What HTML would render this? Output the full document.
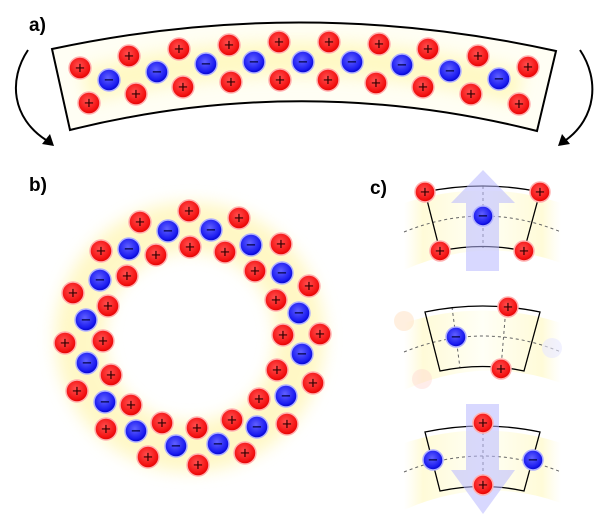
<!DOCTYPE html>
<html><head><meta charset="utf-8"><style>
html,body{margin:0;padding:0;background:#fff;width:613px;height:518px;overflow:hidden}
svg{display:block}
.p,.m{font-family:"Liberation Sans",sans-serif;font-size:17px;fill:#300000;text-anchor:middle;dominant-baseline:central}
.m{fill:#000040}
.lab{font-family:"Liberation Sans",sans-serif;font-weight:bold;font-size:19px;fill:#000}
</style></head><body>
<svg width="613" height="518" viewBox="0 0 613 518" xmlns="http://www.w3.org/2000/svg">
<defs>
<radialGradient id="rr" cx="0.45" cy="0.4" r="0.6"><stop offset="0" stop-color="#ff5050"/><stop offset="0.75" stop-color="#f41414"/><stop offset="1" stop-color="#e00000"/></radialGradient>
<radialGradient id="bb" cx="0.45" cy="0.4" r="0.6"><stop offset="0" stop-color="#6060ff"/><stop offset="0.75" stop-color="#1c1cf0"/><stop offset="1" stop-color="#0000c8"/></radialGradient>
<filter id="bl" filterUnits="userSpaceOnUse" x="0" y="0" width="613" height="518"><feGaussianBlur stdDeviation="8"/></filter>
<linearGradient id="cy" x1="0" x2="1"><stop offset="0" stop-color="#fffbe0" stop-opacity="0"/><stop offset="0.12" stop-color="#fffbd8"/><stop offset="0.5" stop-color="#fffff6"/><stop offset="0.88" stop-color="#fffbd8"/><stop offset="1" stop-color="#fffbe0" stop-opacity="0"/></linearGradient>
</defs>

<text class="lab" x="29" y="31">a)</text>
<text class="lab" x="29" y="191">b)</text>
<text class="lab" x="370" y="194">c)</text>

<!-- panel a -->
<path d="M52,49 Q304,-5 556,51 L537,131 Q304,72 70,130 Z" fill="#fffef4"/>
<path d="M85,86 Q304,30 520,88" fill="none" stroke="#fff7b0" stroke-width="34" filter="url(#bl)" opacity="0.7"/>
<path d="M52,49 Q304,-5 556,51 L537,131 Q304,72 70,130 Z" fill="none" stroke="#000" stroke-width="2"/>
<path d="M28,50 C8,80 12,118 46,140" fill="none" stroke="#000" stroke-width="2"/>
<path d="M42,144 L54,146 L50,134 Z" fill="#000"/>
<path d="M580,50 C600,80 596,118 566,140" fill="none" stroke="#000" stroke-width="2"/>
<path d="M570,144 L558,146 L562,134 Z" fill="#000"/>

<g stroke="#ffb0b0" stroke-width="1.5" fill="url(#rr)">
<circle cx="80" cy="68" r="11"/><circle cx="89" cy="103" r="11"/>
<circle cx="129" cy="56" r="11"/><circle cx="136" cy="94" r="11"/>
<circle cx="179" cy="49" r="11"/><circle cx="183" cy="87" r="11"/>
<circle cx="229" cy="45" r="11"/><circle cx="231" cy="82" r="11"/>
<circle cx="279" cy="42" r="11"/><circle cx="280" cy="80" r="11"/>
<circle cx="329" cy="42" r="11"/><circle cx="328" cy="80" r="11"/>
<circle cx="379" cy="44" r="11"/><circle cx="376" cy="83" r="11"/>
<circle cx="428" cy="49" r="11"/><circle cx="423" cy="87" r="11"/>
<circle cx="478" cy="56" r="11"/><circle cx="471" cy="94" r="11"/>
<circle cx="528" cy="67" r="11"/><circle cx="519" cy="104" r="11"/>
</g>
<g stroke="#b0b0ff" stroke-width="1.5" fill="url(#bb)">
<circle cx="109" cy="80" r="11"/><circle cx="157" cy="72" r="11"/>
<circle cx="206" cy="64" r="11"/><circle cx="254" cy="62" r="11"/>
<circle cx="303" cy="62" r="11"/><circle cx="352" cy="62" r="11"/>
<circle cx="402" cy="65" r="11"/><circle cx="450" cy="71" r="11"/>
<circle cx="499" cy="79" r="11"/>
</g>
<g class="p">
<text x="80" y="68">+</text><text x="89" y="103">+</text><text x="129" y="56">+</text><text x="136" y="94">+</text>
<text x="179" y="49">+</text><text x="183" y="87">+</text><text x="229" y="45">+</text><text x="231" y="82">+</text>
<text x="279" y="42">+</text><text x="280" y="80">+</text><text x="329" y="42">+</text><text x="328" y="80">+</text>
<text x="379" y="44">+</text><text x="376" y="83">+</text><text x="428" y="49">+</text><text x="423" y="87">+</text>
<text x="478" y="56">+</text><text x="471" y="94">+</text><text x="528" y="67">+</text><text x="519" y="104">+</text>
</g>
<g class="m">
<text x="109" y="80">−</text><text x="157" y="72">−</text><text x="206" y="64">−</text><text x="254" y="62">−</text>
<text x="303" y="62">−</text><text x="352" y="62">−</text><text x="402" y="65">−</text><text x="450" y="71">−</text><text x="499" y="79">−</text>
</g>

<!-- panel b -->
<circle cx="190" cy="337" r="110" fill="none" stroke="#fff3a0" stroke-width="50" filter="url(#bl)" opacity="0.6"/>
<g stroke="#ffb0b0" stroke-width="1.5" fill="url(#rr)">
<circle cx="189" cy="211" r="11"/><circle cx="140" cy="222" r="11"/><circle cx="239" cy="218" r="11"/><circle cx="101" cy="251" r="11"/>
<circle cx="156" cy="255" r="11"/><circle cx="190" cy="247" r="11"/><circle cx="225" cy="252" r="11"/><circle cx="281" cy="244" r="11"/>
<circle cx="127" cy="276" r="11"/><circle cx="255" cy="271" r="11"/><circle cx="73" cy="293" r="11"/><circle cx="309" cy="286" r="11"/>
<circle cx="108" cy="306" r="11"/><circle cx="276" cy="300" r="11"/><circle cx="65" cy="343" r="11"/><circle cx="103" cy="341" r="11"/>
<circle cx="283" cy="335" r="11"/><circle cx="320" cy="334" r="11"/><circle cx="111" cy="375" r="11"/><circle cx="277" cy="370" r="11"/>
<circle cx="77" cy="391" r="11"/><circle cx="313" cy="383" r="11"/><circle cx="131" cy="405" r="11"/><circle cx="259" cy="399" r="11"/>
<circle cx="106" cy="429" r="11"/><circle cx="162" cy="423" r="11"/><circle cx="197" cy="428" r="11"/><circle cx="232" cy="420" r="11"/>
<circle cx="287" cy="424" r="11"/><circle cx="148" cy="457" r="11"/><circle cx="198" cy="465" r="11"/><circle cx="245" cy="453" r="11"/>
</g>
<g stroke="#b0b0ff" stroke-width="1.5" fill="url(#bb)">
<circle cx="168" cy="231" r="11"/><circle cx="211" cy="230" r="11"/><circle cx="129" cy="249" r="11"/><circle cx="251" cy="245" r="11"/>
<circle cx="100" cy="280" r="11"/><circle cx="282" cy="273" r="11"/><circle cx="86" cy="320" r="11"/><circle cx="299" cy="313" r="11"/>
<circle cx="87" cy="363" r="11"/><circle cx="302" cy="354" r="11"/><circle cx="105" cy="402" r="11"/><circle cx="286" cy="396" r="11"/>
<circle cx="136" cy="431" r="11"/><circle cx="257" cy="427" r="11"/><circle cx="176" cy="446" r="11"/><circle cx="218" cy="444" r="11"/>
</g>
<g class="p">
<text x="189" y="211">+</text><text x="140" y="222">+</text><text x="239" y="218">+</text><text x="101" y="251">+</text>
<text x="156" y="255">+</text><text x="190" y="247">+</text><text x="225" y="252">+</text><text x="281" y="244">+</text>
<text x="127" y="276">+</text><text x="255" y="271">+</text><text x="73" y="293">+</text><text x="309" y="286">+</text>
<text x="108" y="306">+</text><text x="276" y="300">+</text><text x="65" y="343">+</text><text x="103" y="341">+</text>
<text x="283" y="335">+</text><text x="320" y="334">+</text><text x="111" y="375">+</text><text x="277" y="370">+</text>
<text x="77" y="391">+</text><text x="313" y="383">+</text><text x="131" y="405">+</text><text x="259" y="399">+</text>
<text x="106" y="429">+</text><text x="162" y="423">+</text><text x="197" y="428">+</text><text x="232" y="420">+</text>
<text x="287" y="424">+</text><text x="148" y="457">+</text><text x="198" y="465">+</text><text x="245" y="453">+</text>
</g>
<g class="m">
<text x="168" y="231">−</text><text x="211" y="230">−</text><text x="129" y="249">−</text><text x="251" y="245">−</text>
<text x="100" y="280">−</text><text x="282" y="273">−</text><text x="86" y="320">−</text><text x="299" y="313">−</text>
<text x="87" y="363">−</text><text x="302" y="354">−</text><text x="105" y="402">−</text><text x="286" y="396">−</text>
<text x="136" y="431">−</text><text x="257" y="427">−</text><text x="176" y="446">−</text><text x="218" y="444">−</text>
</g>

<!-- panel c -->
<path d="M404,203 Q483,178 561,203 L561,263 Q483,235 404,270 Z" fill="url(#cy)"/>
<path d="M404,232 Q483,200 561,232" fill="none" stroke="#666" stroke-dasharray="3,3" stroke-width="1"/>
<line x1="483" y1="186" x2="483" y2="248" stroke="#666" stroke-dasharray="3,3"/>
<path d="M425,192 Q483,180 540,192 L524,251 Q483,242 440,251 Z" fill="none" stroke="#000" stroke-width="1.3"/>
<path d="M466,271 L499,271 L499,203 L515,203 L483,170 L451,203 L466,203 Z" fill="#b8b8ff" opacity="0.55"/>

<path d="M404,323 Q483,298 561,323 L561,383 Q483,355 404,390 Z" fill="url(#cy)"/>
<path d="M404,352 Q483,320 561,352" fill="none" stroke="#666" stroke-dasharray="3,3" stroke-width="1"/>
<line x1="452" y1="307" x2="460" y2="368" stroke="#666" stroke-dasharray="3,3"/>
<line x1="506" y1="307" x2="501" y2="368" stroke="#666" stroke-dasharray="3,3"/>
<path d="M425,312 Q483,300 540,312 L524,371 Q483,362 440,371 Z" fill="none" stroke="#000" stroke-width="1.3"/>
<circle cx="404" cy="321" r="10" fill="#ffe0c0" opacity="0.5"/>
<circle cx="422" cy="379" r="10" fill="#ffd8d0" opacity="0.45"/>
<circle cx="552" cy="348" r="10" fill="#e8e8ff" opacity="0.6"/>

<path d="M404,443 Q483,418 561,443 L561,503 Q483,475 404,510 Z" fill="url(#cy)"/>
<path d="M404,472 Q483,440 561,472" fill="none" stroke="#666" stroke-dasharray="3,3" stroke-width="1"/>
<line x1="483" y1="426" x2="483" y2="488" stroke="#666" stroke-dasharray="3,3"/>
<path d="M425,432 Q483,420 540,432 L524,491 Q483,482 440,491 Z" fill="none" stroke="#000" stroke-width="1.3"/>
<path d="M466,404 L499,404 L499,470 L515,470 L483,514 L451,470 L466,470 Z" fill="#b8b8ff" opacity="0.55"/>

<g stroke="#ffb0b0" stroke-width="1.5" fill="url(#rr)">
<circle cx="425" cy="192" r="10"/><circle cx="540" cy="192" r="10"/><circle cx="440" cy="251" r="10"/><circle cx="524" cy="251" r="10"/>
<circle cx="508" cy="307" r="10"/><circle cx="501" cy="369" r="10"/>
<circle cx="483" cy="423" r="10"/><circle cx="483" cy="485" r="10"/>
</g>
<g stroke="#b0b0ff" stroke-width="1.5" fill="url(#bb)">
<circle cx="483" cy="216" r="10"/><circle cx="456" cy="337" r="10"/><circle cx="433" cy="460" r="10"/><circle cx="533" cy="460" r="10"/>
</g>
<g class="p">
<text x="425" y="192">+</text><text x="540" y="192">+</text><text x="440" y="251">+</text><text x="524" y="251">+</text>
<text x="508" y="307">+</text><text x="501" y="369">+</text><text x="483" y="423">+</text><text x="483" y="485">+</text>
</g>
<g class="m">
<text x="483" y="216">−</text><text x="456" y="337">−</text><text x="433" y="460">−</text><text x="533" y="460">−</text>
</g>
</svg>
</body></html>
